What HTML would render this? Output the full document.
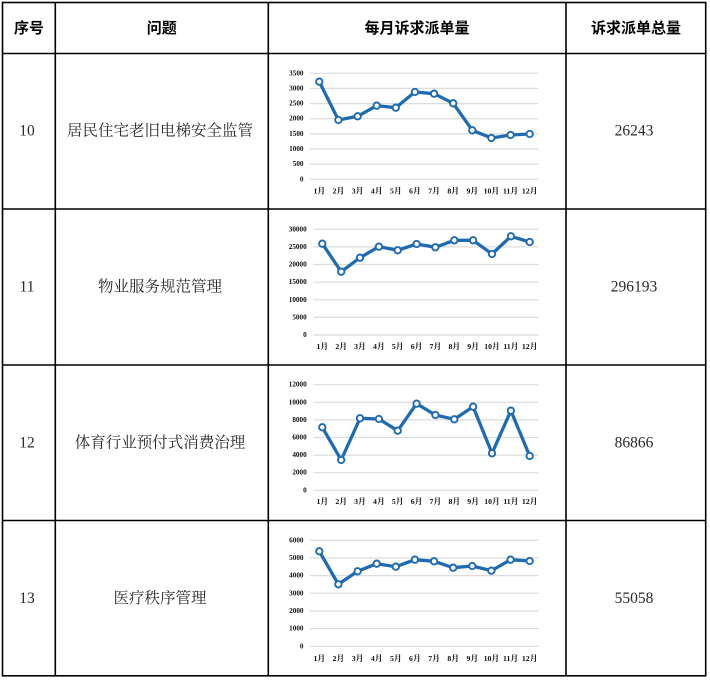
<!DOCTYPE html>
<html>
<head>
<meta charset="utf-8">
<style>
html,body{margin:0;padding:0;background:#fff;width:710px;height:682px;overflow:hidden;}
svg{display:block;}
.hd{font-family:"Liberation Sans","Noto Sans CJK SC",sans-serif;font-weight:700;font-size:15px;fill:#000;}
.bd{font-family:"Liberation Serif","Noto Serif CJK SC",serif;font-size:15.5px;fill:#2a2a2a;}
.ax{font-family:"Liberation Serif","Noto Serif CJK SC",serif;font-size:7.2px;fill:#111;font-weight:700;}
.xl{font-family:"Liberation Serif","Noto Serif CJK SC",serif;font-size:7.8px;fill:#111;font-weight:700;}
.g{stroke:#dcdcdc;stroke-width:1.2;}
.ln{fill:none;stroke:#1f6bb2;stroke-width:3.3;stroke-linejoin:round;}
.mk{fill:#fff;stroke:#1f6bb2;stroke-width:1.9;}
</style>
</head>
<body>
<svg width="710" height="682" viewBox="0 0 710 682" xmlns="http://www.w3.org/2000/svg">
<g stroke="#000" stroke-width="1.6" fill="none">
<rect x="2.5" y="2.5" width="703.2" height="673.3"/>
<line x1="55.3" y1="2.5" x2="55.3" y2="675.8"/>
<line x1="268.3" y1="2.5" x2="268.3" y2="675.8"/>
<line x1="566" y1="2.5" x2="566" y2="675.8"/>
<line x1="2.5" y1="53.5" x2="705.7" y2="53.5"/>
<line x1="2.5" y1="209" x2="705.7" y2="209"/>
<line x1="2.5" y1="365" x2="705.7" y2="365"/>
<line x1="2.5" y1="520.5" x2="705.7" y2="520.5"/>
</g>

<g class="hd" text-anchor="middle" dominant-baseline="central">
<text x="29" y="28.5">序号</text>
<text x="161.8" y="28.5">问题</text>
<text x="417" y="28.5">每月诉求派单量</text>
<text x="636" y="28.5">诉求派单总量</text>
</g>

<g class="bd" text-anchor="middle" dominant-baseline="central">
<text x="27" y="131">10</text>
<text x="160" y="131">居民住宅老旧电梯安全监管</text>
<text x="634" y="131">26243</text>
<text x="27" y="287">11</text>
<text x="160" y="287">物业服务规范管理</text>
<text x="634" y="287">296193</text>
<text x="27" y="443">12</text>
<text x="160" y="443">体育行业预付式消费治理</text>
<text x="634" y="443">86866</text>
<text x="27" y="598.5">13</text>
<text x="160" y="598.5">医疗秩序管理</text>
<text x="634" y="598.5">55058</text>
</g>

<!-- Chart 1 -->
<g>
<g class="g">
<line x1="310" y1="73.3" x2="538" y2="73.3"/>
<line x1="310" y1="88.4" x2="538" y2="88.4"/>
<line x1="310" y1="103.6" x2="538" y2="103.6"/>
<line x1="310" y1="118.7" x2="538" y2="118.7"/>
<line x1="310" y1="133.9" x2="538" y2="133.9"/>
<line x1="310" y1="149.0" x2="538" y2="149.0"/>
<line x1="310" y1="164.1" x2="538" y2="164.1"/>
<line x1="310" y1="179.3" x2="538" y2="179.3"/>
</g>
<g class="ax" text-anchor="end" dominant-baseline="central">
<text x="303.5" y="73.3">3500</text>
<text x="303.5" y="88.4">3000</text>
<text x="303.5" y="103.6">2500</text>
<text x="303.5" y="118.7">2000</text>
<text x="303.5" y="133.9">1500</text>
<text x="303.5" y="149.0">1000</text>
<text x="303.5" y="164.1">500</text>
<text x="303.5" y="179.3">0</text>
</g>
<g class="xl" text-anchor="middle" dominant-baseline="central">
<text x="319.3" y="191">1月</text><text x="338.4" y="191">2月</text><text x="357.6" y="191">3月</text><text x="376.7" y="191">4月</text><text x="395.8" y="191">5月</text><text x="414.9" y="191">6月</text><text x="434.1" y="191">7月</text><text x="453.2" y="191">8月</text><text x="472.3" y="191">9月</text><text x="491.4" y="191">10月</text><text x="510.6" y="191">11月</text><text x="529.7" y="191">12月</text>
</g>
<polyline class="ln" points="319.3,81.7 338.4,120 357.6,116.3 376.7,105.7 395.8,107.7 414.9,92 434.1,93.7 453.2,103.3 472.3,130.3 491.4,138 510.6,135 529.7,134"/>
<g class="mk">
<circle cx="319.3" cy="81.7" r="3.2"/><circle cx="338.4" cy="120" r="3.2"/><circle cx="357.6" cy="116.3" r="3.2"/><circle cx="376.7" cy="105.7" r="3.2"/><circle cx="395.8" cy="107.7" r="3.2"/><circle cx="414.9" cy="92" r="3.2"/><circle cx="434.1" cy="93.7" r="3.2"/><circle cx="453.2" cy="103.3" r="3.2"/><circle cx="472.3" cy="130.3" r="3.2"/><circle cx="491.4" cy="138" r="3.2"/><circle cx="510.6" cy="135" r="3.2"/><circle cx="529.7" cy="134" r="3.2"/>
</g>
</g>

<!-- Chart 2 -->
<g>
<g class="g">
<line x1="313.3" y1="229.3" x2="538.3" y2="229.3"/>
<line x1="313.3" y1="246.9" x2="538.3" y2="246.9"/>
<line x1="313.3" y1="264.5" x2="538.3" y2="264.5"/>
<line x1="313.3" y1="282.2" x2="538.3" y2="282.2"/>
<line x1="313.3" y1="299.8" x2="538.3" y2="299.8"/>
<line x1="313.3" y1="317.4" x2="538.3" y2="317.4"/>
<line x1="313.3" y1="335.0" x2="538.3" y2="335.0"/>
</g>
<g class="ax" text-anchor="end" dominant-baseline="central">
<text x="306.7" y="229.3">30000</text>
<text x="306.7" y="246.9">25000</text>
<text x="306.7" y="264.5">20000</text>
<text x="306.7" y="282.2">15000</text>
<text x="306.7" y="299.8">10000</text>
<text x="306.7" y="317.4">5000</text>
<text x="306.7" y="335.0">0</text>
</g>
<g class="xl" text-anchor="middle" dominant-baseline="central">
<text x="322.3" y="346.7">1月</text><text x="341.2" y="346.7">2月</text><text x="360.0" y="346.7">3月</text><text x="378.9" y="346.7">4月</text><text x="397.7" y="346.7">5月</text><text x="416.6" y="346.7">6月</text><text x="435.4" y="346.7">7月</text><text x="454.3" y="346.7">8月</text><text x="473.1" y="346.7">9月</text><text x="492.0" y="346.7">10月</text><text x="510.9" y="346.7">11月</text><text x="529.7" y="346.7">12月</text>
</g>
<polyline class="ln" points="322.3,243.7 341.2,271.7 360.0,257.7 378.9,246.7 397.7,250.3 416.6,244 435.4,247.3 454.3,240.3 473.1,240.3 492.0,254 510.9,236.3 529.7,242"/>
<g class="mk">
<circle cx="322.3" cy="243.7" r="3.2"/><circle cx="341.2" cy="271.7" r="3.2"/><circle cx="360.0" cy="257.7" r="3.2"/><circle cx="378.9" cy="246.7" r="3.2"/><circle cx="397.7" cy="250.3" r="3.2"/><circle cx="416.6" cy="244" r="3.2"/><circle cx="435.4" cy="247.3" r="3.2"/><circle cx="454.3" cy="240.3" r="3.2"/><circle cx="473.1" cy="240.3" r="3.2"/><circle cx="492.0" cy="254" r="3.2"/><circle cx="510.9" cy="236.3" r="3.2"/><circle cx="529.7" cy="242" r="3.2"/>
</g>
</g>

<!-- Chart 3 -->
<g>
<g class="g">
<line x1="313.3" y1="384.7" x2="538.3" y2="384.7"/>
<line x1="313.3" y1="402.3" x2="538.3" y2="402.3"/>
<line x1="313.3" y1="419.9" x2="538.3" y2="419.9"/>
<line x1="313.3" y1="437.5" x2="538.3" y2="437.5"/>
<line x1="313.3" y1="455.1" x2="538.3" y2="455.1"/>
<line x1="313.3" y1="472.7" x2="538.3" y2="472.7"/>
<line x1="313.3" y1="490.3" x2="538.3" y2="490.3"/>
</g>
<g class="ax" text-anchor="end" dominant-baseline="central">
<text x="306.7" y="384.7">12000</text>
<text x="306.7" y="402.3">10000</text>
<text x="306.7" y="419.9">8000</text>
<text x="306.7" y="437.5">6000</text>
<text x="306.7" y="455.1">4000</text>
<text x="306.7" y="472.7">2000</text>
<text x="306.7" y="490.3">0</text>
</g>
<g class="xl" text-anchor="middle" dominant-baseline="central">
<text x="322.3" y="501.7">1月</text><text x="341.2" y="501.7">2月</text><text x="360.0" y="501.7">3月</text><text x="378.9" y="501.7">4月</text><text x="397.7" y="501.7">5月</text><text x="416.6" y="501.7">6月</text><text x="435.4" y="501.7">7月</text><text x="454.3" y="501.7">8月</text><text x="473.1" y="501.7">9月</text><text x="492.0" y="501.7">10月</text><text x="510.9" y="501.7">11月</text><text x="529.7" y="501.7">12月</text>
</g>
<polyline class="ln" points="322.3,427.3 341.2,460 360.0,418.3 378.9,419 397.7,430.7 416.6,403.7 435.4,415 454.3,419.3 473.1,406.7 492.0,453.3 510.9,410.7 529.7,456"/>
<g class="mk">
<circle cx="322.3" cy="427.3" r="3.2"/><circle cx="341.2" cy="460" r="3.2"/><circle cx="360.0" cy="418.3" r="3.2"/><circle cx="378.9" cy="419" r="3.2"/><circle cx="397.7" cy="430.7" r="3.2"/><circle cx="416.6" cy="403.7" r="3.2"/><circle cx="435.4" cy="415" r="3.2"/><circle cx="454.3" cy="419.3" r="3.2"/><circle cx="473.1" cy="406.7" r="3.2"/><circle cx="492.0" cy="453.3" r="3.2"/><circle cx="510.9" cy="410.7" r="3.2"/><circle cx="529.7" cy="456" r="3.2"/>
</g>
</g>

<!-- Chart 4 -->
<g>
<g class="g">
<line x1="310" y1="540.3" x2="538.3" y2="540.3"/>
<line x1="310" y1="558.0" x2="538.3" y2="558.0"/>
<line x1="310" y1="575.6" x2="538.3" y2="575.6"/>
<line x1="310" y1="593.3" x2="538.3" y2="593.3"/>
<line x1="310" y1="611.0" x2="538.3" y2="611.0"/>
<line x1="310" y1="628.6" x2="538.3" y2="628.6"/>
<line x1="310" y1="646.3" x2="538.3" y2="646.3"/>
</g>
<g class="ax" text-anchor="end" dominant-baseline="central">
<text x="303.5" y="540.3">6000</text>
<text x="303.5" y="558.0">5000</text>
<text x="303.5" y="575.6">4000</text>
<text x="303.5" y="593.3">3000</text>
<text x="303.5" y="611.0">2000</text>
<text x="303.5" y="628.6">1000</text>
<text x="303.5" y="646.3">0</text>
</g>
<g class="xl" text-anchor="middle" dominant-baseline="central">
<text x="319.3" y="658.3">1月</text><text x="338.4" y="658.3">2月</text><text x="357.6" y="658.3">3月</text><text x="376.7" y="658.3">4月</text><text x="395.8" y="658.3">5月</text><text x="414.9" y="658.3">6月</text><text x="434.1" y="658.3">7月</text><text x="453.2" y="658.3">8月</text><text x="472.3" y="658.3">9月</text><text x="491.4" y="658.3">10月</text><text x="510.6" y="658.3">11月</text><text x="529.7" y="658.3">12月</text>
</g>
<polyline class="ln" points="319.3,551.3 338.4,584.3 357.6,571.3 376.7,563.7 395.8,566.7 414.9,559.7 434.1,561.3 453.2,567.7 472.3,566 491.4,570.7 510.6,559.7 529.7,561"/>
<g class="mk">
<circle cx="319.3" cy="551.3" r="3.2"/><circle cx="338.4" cy="584.3" r="3.2"/><circle cx="357.6" cy="571.3" r="3.2"/><circle cx="376.7" cy="563.7" r="3.2"/><circle cx="395.8" cy="566.7" r="3.2"/><circle cx="414.9" cy="559.7" r="3.2"/><circle cx="434.1" cy="561.3" r="3.2"/><circle cx="453.2" cy="567.7" r="3.2"/><circle cx="472.3" cy="566" r="3.2"/><circle cx="491.4" cy="570.7" r="3.2"/><circle cx="510.6" cy="559.7" r="3.2"/><circle cx="529.7" cy="561" r="3.2"/>
</g>
</g>
</svg>
</body>
</html>
